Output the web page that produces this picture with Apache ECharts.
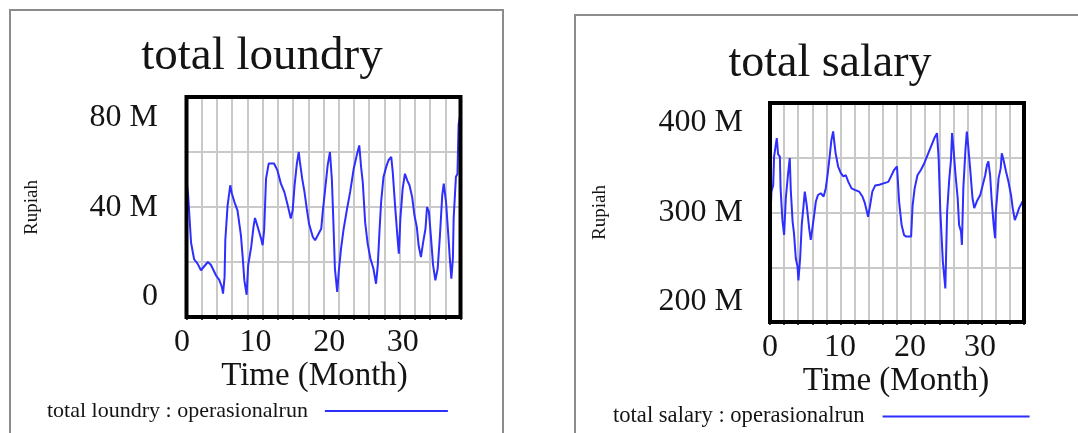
<!DOCTYPE html>
<html>
<head>
<meta charset="utf-8">
<script src="https://cdn.jsdelivr.net/npm/echarts@6/dist/echarts.min.js"></script>
<style>
  html, body { margin: 0; padding: 0; background: #fff; }
  #chart { width: 1078px; height: 433px; }
</style>
</head>
<body>
<div id="chart"></div>
<script>
// total loundry (million Rupiah) against simulation time in months
const loundryMonth = [0, 0.2, 0.4, 0.6, 1.0, 1.45, 1.9, 2.8, 3.2, 3.9, 4.3, 4.65, 4.8, 5.0, 5.1, 5.4, 5.75, 5.95, 6.3, 6.7,
  7.15, 7.4, 7.6, 7.9, 8.1, 8.5, 8.8, 9.0, 9.3, 9.55, 9.8, 10.0, 10.2, 10.45, 10.8, 11.5, 11.95, 12.4, 12.85, 13.3,
  13.7, 13.95, 14.2, 14.5, 14.75, 14.9, 15.2, 15.5, 15.8, 16.1, 16.6, 16.9, 17.25, 17.7, 17.9, 18.2, 18.55, 18.85, 19.1, 19.3,
  19.5, 19.8, 20.0, 20.3, 20.65, 21.1, 21.5, 21.97, 22.37, 22.7, 22.94, 23.16, 23.47, 23.8, 24.17, 24.56, 24.9, 25.13, 25.35, 25.57,
  25.88, 26.23, 26.54, 26.9, 27.1, 27.4, 27.7, 27.9, 28.1, 28.4, 28.7, 29.0, 29.3, 29.65, 29.95, 30.26, 30.5, 30.8, 31.1, 31.4,
  31.6, 31.85, 32.1, 32.4, 32.7, 33.0, 33.3, 33.6, 33.8, 34.1, 34.4, 34.6, 34.8, 35.0, 35.1, 35.4, 35.6, 35.75, 36.0];
const loundryValue = [50, 45, 36, 27, 21, 19.4, 17, 20, 19, 15, 13.5, 10.9, 8.5, 14.5, 28, 40.6, 47.9, 45, 41.8, 38.8,
  29.7, 21.2, 13.3, 8.1, 18.8, 25.5, 32.7, 36, 33.3, 30.9, 28.5, 26.1, 31.5, 50.3, 55.8, 55.8, 53.3, 48.5, 45.5, 40.6,
  35.8, 38.8, 47.9, 55.8, 60, 56.4, 50.3, 45.5, 39.4, 33.9, 29.1, 27.9, 29.7, 32.1, 38.2, 46, 55.2, 60, 50, 34.5,
  17.6, 9.1, 16.4, 24.8, 32.1, 39.4, 45.5, 53.9, 58.8, 62.4, 54.5, 49, 34.5, 26.7, 21.2, 17.6, 12.1, 18.8, 30.9, 41.8,
  50.9, 54.5, 57, 58.2, 52.7, 40.6, 29.7, 23, 35.8, 46.7, 52.1, 49.7, 47.9, 43.6, 37, 32.7, 26, 21.8, 27.3, 32.1,
  40, 38.2, 29.7, 18.8, 13.3, 17.6, 29.7, 44.2, 48.5, 41.8, 29.7, 21.2, 13.9, 21.2, 35.8, 51, 52, 70, 74];

// total salary (million Rupiah) against simulation time in months
const salaryMonth = [0, 0.1, 0.2, 0.45, 0.58, 0.96, 1.15, 1.4, 1.5, 1.76, 2.0, 2.24, 2.57, 2.8, 2.95, 3.2, 3.4, 3.66, 3.9, 4.03,
  4.27, 4.5, 4.74, 4.93, 5.2, 5.55, 5.78, 6.0, 6.26, 6.5, 6.8, 7.2, 7.6, 7.9, 8.15, 8.43, 8.7, 8.95, 9.1, 9.3,
  9.66, 10.04, 10.4, 10.75, 11.1, 11.56, 12.0, 12.65, 13.1, 13.45, 13.73, 13.9, 14.2, 14.5, 14.9, 15.5, 16.2, 16.77, 17.15, 17.6,
  18.0, 18.3, 18.65, 19.0, 19.3, 20.0, 20.2, 20.5, 20.9, 21.4, 21.87, 22.34, 22.8, 23.3, 23.67, 23.9, 24.14, 24.5, 24.7, 24.85,
  25.1, 25.4, 25.65, 25.8, 26.0, 26.3, 26.6, 26.8, 27.07, 27.2, 27.4, 27.7, 27.9, 28.1, 28.4, 28.7, 28.95, 29.3, 29.8, 30.15,
  30.5, 30.76, 30.95, 31.2, 31.4, 31.7, 31.9, 32.0, 32.4, 32.7, 32.85, 33.1, 33.45, 33.8, 34.16, 34.4, 34.7, 35.0, 35.3, 35.8, 36.0];
const salaryValue = [273, 300, 319, 325, 351, 368, 353, 351, 322, 293, 279.5, 313, 336, 349.7, 320, 292, 281, 258, 250.6, 238,
  258, 288.7, 305.4, 319, 307, 285.6, 275, 285, 297.8, 310, 316, 317.6, 314.6, 322, 334, 349.6, 366, 374, 365, 354,
  342, 336, 333, 334, 328, 322, 320.7, 319, 314.6, 308.5, 301, 296, 307, 319, 324.6, 325.3, 326.8, 328, 333, 339,
  342, 310, 288.7, 279.5, 278, 278, 305.5, 322, 334, 339, 345, 352.7, 360, 368, 372.5, 349.7, 301, 255, 253.6, 230.7,
  300, 330, 348, 372.5, 358.8, 334, 313, 288.7, 282.6, 270.4, 322, 357, 374, 360.3, 337.5, 313, 304, 310, 316, 325,
  334, 343.6, 346.6, 334, 313, 288.7, 276.5, 300, 331.4, 340.5, 354, 348, 337.5, 328, 316, 304, 293, 298, 304, 310, 313];

// axis ranges and tick labels
const timeTicks = [0, 10, 20, 30];
const loundryTicks = [0, 40, 80];
const salaryTicks = [200, 300, 400];

const loundryName = 'total loundry : operasionalrun';
const salaryName = 'total salary : operasionalrun';

const FONT = '"Liberation Serif", "Times New Roman", serif';
const INK = '#141414';
const BLUE = '#2e2eff';
const GRIDC = '#c9c9c9';

const pairs = (xs, ys) => xs.map((x, i) => [x, ys[i]]);
const mLabel = v => (v === 0 ? '0' : v + ' M');

// Plot frame: grey grid every 2 months, edge lines left to the black border
function plotX(gridIndex) {
  return {
    gridIndex, type: 'value', min: 0, max: 36, interval: 2,
    axisLine: { show: false },
    axisTick: { show: true, length: 3, lineStyle: { color: '#000', width: 1.5 } },
    axisLabel: { show: false },
    splitLine: { show: true, showMinLine: false, showMaxLine: false, lineStyle: { color: GRIDC, width: 2 } }
  };
}
function plotY(gridIndex, min, max, step) {
  return {
    gridIndex, type: 'value', min, max, interval: step,
    axisLine: { show: false }, axisTick: { show: false }, axisLabel: { show: false },
    splitLine: { show: true, showMinLine: false, showMaxLine: false, lineStyle: { color: GRIDC, width: 2 } }
  };
}
// Label-only axes
function labelX(gridIndex) {
  return {
    gridIndex, type: 'value', min: 0, max: 36,
    axisLine: { show: false }, axisTick: { show: false }, splitLine: { show: false },
    name: 'Time (Month)', nameLocation: 'middle', nameGap: 62,
    nameTextStyle: { fontFamily: FONT, fontSize: 33, color: INK },
    axisLabel: { customValues: timeTicks, margin: 30, fontFamily: FONT, fontSize: 32, color: INK }
  };
}
function labelY(gridIndex, ticks, gap, margin) {
  return {
    gridIndex, type: 'value', min: ticks[0], max: ticks[ticks.length - 1],
    axisLine: { show: false }, axisTick: { show: false }, splitLine: { show: false },
    name: 'Rupiah', nameLocation: 'middle', nameRotate: 90, nameGap: gap,
    nameTextStyle: { fontFamily: FONT, fontSize: 19, color: INK },
    axisLabel: { customValues: ticks, formatter: mLabel, margin, fontFamily: FONT, fontSize: 32, color: INK }
  };
}

const chart = echarts.init(document.getElementById('chart'), null, { renderer: 'canvas' });
chart.setOption({
  animation: false,
  backgroundColor: '#fff',
  graphic: [
    { type: 'rect', shape: { x: 10, y: 10, width: 493, height: 460 }, style: { fill: 'none', stroke: '#8c8c8c', lineWidth: 2 }, silent: true },
    { type: 'rect', shape: { x: 575, y: 15, width: 540, height: 460 }, style: { fill: 'none', stroke: '#8c8c8c', lineWidth: 2 }, silent: true }
  ],
  title: [
    { text: 'total loundry', left: 262, top: 33, textAlign: 'center', padding: 0,
      textStyle: { fontFamily: FONT, fontSize: 47, fontWeight: 'normal', color: INK } },
    { text: 'total salary', left: 830, top: 41, textAlign: 'center', padding: 0,
      textStyle: { fontFamily: FONT, fontSize: 46, fontWeight: 'normal', color: INK } }
  ],
  legend: [
    { data: [loundryName], left: 47, top: 400, align: 'right', icon: 'rect', itemWidth: 123, itemHeight: 2,
      padding: 0, textStyle: { fontFamily: FONT, fontSize: 22, color: INK, padding: [0, 12, 0, 0] } },
    { data: [salaryName], left: 613, top: 405, align: 'right', icon: 'rect', itemWidth: 147, itemHeight: 2,
      padding: 0, textStyle: { fontFamily: FONT, fontSize: 22.6, color: INK, padding: [0, 13, 0, 0] } }
  ],
  grid: [
    { left: 186.5, top: 97, width: 274, height: 220, show: true, borderColor: '#000', borderWidth: 4, z: 5 },
    { left: 182, top: 118, width: 265, height: 179 },
    { left: 770, top: 103, width: 254, height: 219, show: true, borderColor: '#000', borderWidth: 4, z: 5 },
    { left: 770, top: 123, width: 252, height: 179 }
  ],
  xAxis: [plotX(0), labelX(1), plotX(2), labelX(3)],
  yAxis: [
    plotY(0, 0, 80, 20),
    labelY(1, loundryTicks, 140, 24),
    plotY(2, 200, 400, 50),
    labelY(3, salaryTicks, 160, 27)
  ],
  series: [
    { name: loundryName, type: 'line', xAxisIndex: 0, yAxisIndex: 0, data: pairs(loundryMonth, loundryValue),
      showSymbol: false, symbol: 'none', lineStyle: { color: BLUE, width: 2 }, itemStyle: { color: BLUE }, z: 3 },
    { name: salaryName, type: 'line', xAxisIndex: 2, yAxisIndex: 2, data: pairs(salaryMonth, salaryValue),
      showSymbol: false, symbol: 'none', lineStyle: { color: BLUE, width: 2 }, itemStyle: { color: BLUE }, z: 3 }
  ]
});
</script>
</body>
</html>
